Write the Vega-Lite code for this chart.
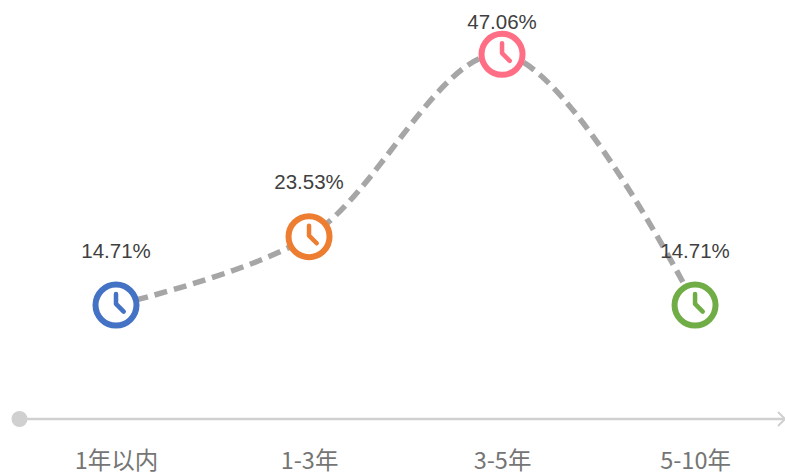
{
"$schema":"https://vega.github.io/schema/vega-lite/v6.json",
"autosize":"none",
"width":785,"height":476,"padding":0,
"background":"white",
"view":{"stroke":null},
"datasets":{
"rows":[{"order":1,"cat":"1年以内","pct":14.71,"label":"14.71%"},{"order":2,"cat":"1-3年","pct":23.53,"label":"23.53%"},{"order":3,"cat":"3-5年","pct":47.06,"label":"47.06%"},{"order":4,"cat":"5-10年","pct":14.71,"label":"14.71%"}],
"base":[{"order":0.5,"v":0},{"order":4.466,"v":0}]
},
"encoding":{
"x":{"field":"order","type":"quantitative","scale":{"domain":[0.399,4.466],"nice":false,"zero":false},
"axis":{"title":null,"domain":false,"ticks":false,"grid":false,"values":[1,2,3,4],"labelExpr":"['','1年以内','1-3年','3-5年','5-10年'][datum.value]","offset":-27,"labelPadding":0,"labelFontSize":23.5,"labelColor":"#757575","labelBaseline":"top","labelFont":"Noto Sans CJK SC","labelFlush":false,"labelOverlap":false}}
},
"layer":[
{"data":{"name":"base"},
"mark":{"type":"line","color":"#d0d0d0","strokeWidth":2.5},
"encoding":{"y":{"field":"v","type":"quantitative","scale":{"domain":[-7.35,54.06],"nice":false,"zero":false},"axis":null}}},
{"data":{"name":"base"},"transform":[{"filter":"datum.order<1"}],"mark":{"type":"point","shape":"circle","filled":true,"color":"#d0d0d0","size":256,"opacity":1},
"encoding":{"y":{"field":"v","type":"quantitative"}}},
{"data":{"name":"base"},"transform":[{"filter":"datum.order>1"}],"mark":{"type":"point","shape":"M-1,-1L0,0L-1,1","filled":false,"color":"#d0d0d0","strokeWidth":2,"size":196,"opacity":1},
"encoding":{"y":{"field":"v","type":"quantitative"}}},
{"data":{"name":"rows"},
"mark":{"type":"line","interpolate":"catmull-rom","color":"#a6a6a6","strokeWidth":5.5,"strokeDash":[13,7]},
"encoding":{"y":{"field":"pct","type":"quantitative"}}},
{"data":{"name":"rows"},
"mark":{"type":"point","shape":"circle","filled":false,"fill":"white","fillOpacity":1,"strokeWidth":6,"size":1681,"opacity":1},
"encoding":{"y":{"field":"pct","type":"quantitative"},
"stroke":{"field":"cat","type":"nominal","sort":["1年以内","1-3年","3-5年","5-10年"],"scale":{"range":["#4472C4","#ED7D31","#FF6E85","#70AD47"]},"legend":null}}},
{"data":{"name":"rows"},
"mark":{"type":"point","shape":"M0,-1L0,-0.1L0.7,0.6","filled":false,"strokeWidth":4.5,"strokeCap":"round","strokeJoin":"round","size":484,"opacity":1},
"encoding":{"y":{"field":"pct","type":"quantitative"},
"stroke":{"field":"cat","type":"nominal","sort":["1年以内","1-3年","3-5年","5-10年"],"legend":null}}},
{"data":{"name":"rows"},"transform":[{"filter":"datum.pct<40"}],
"mark":{"type":"text","dy":-53.5,"fontSize":20.5,"font":"Liberation Sans","color":"#404040"},
"encoding":{"y":{"field":"pct","type":"quantitative"},"text":{"field":"label","type":"nominal"}}},
{"data":{"name":"rows"},"transform":[{"filter":"datum.pct>=40"}],
"mark":{"type":"text","dy":-31.5,"fontSize":20.5,"font":"Liberation Sans","color":"#404040"},
"encoding":{"y":{"field":"pct","type":"quantitative"},"text":{"field":"label","type":"nominal"}}}
]
}
